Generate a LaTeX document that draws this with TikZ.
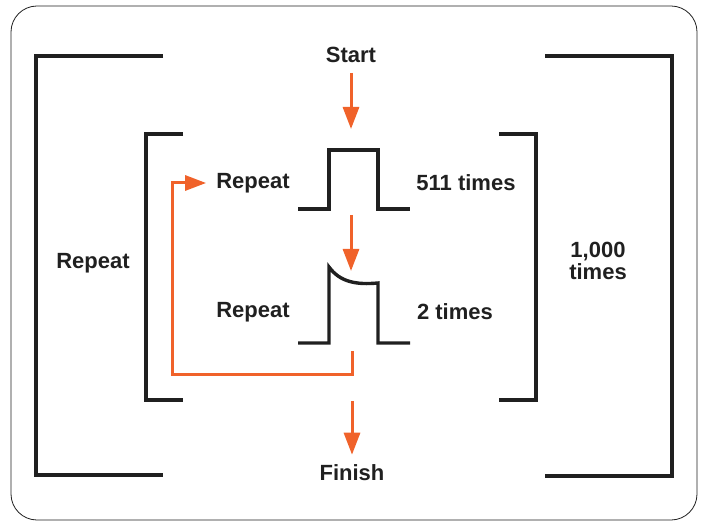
\documentclass[tikz,border=0pt]{standalone}
\usepackage{fontspec}
\setmainfont{Liberation Sans}
\usetikzlibrary{arrows.meta,positioning}
\definecolor{laranja}{RGB}{240,98,42}
\definecolor{tinta}{RGB}{32,32,32}

\begin{document}
\begin{tikzpicture}[x=1pt,y=-1pt,
  rotulo/.style={font=\fontsize{22}{22}\selectfont\bfseries,text=tinta,align=center,inner sep=0pt},
  colchete/.style={line width=3.4pt,draw=tinta},
  pulso/.style={line width=3.4pt,draw=tinta},
  seta/.style={-{Triangle[length=22pt,width=16pt]},line width=3pt,draw=laranja},
  laco/.style={-{Triangle[length=21pt,width=15pt]},line width=3pt,draw=laranja}
]
\useasboundingbox (0,0) rectangle (701,521);
\draw[line width=0.8pt,draw=tinta,rounded corners=26pt] (11,6) rectangle (697,520);
% colchetes
\draw[colchete] (163,56) -- (36,56) -- (36,475) -- (163,475);
\draw[colchete] (545,56) -- (672,56) -- (672,476) -- (545,476);
\draw[colchete] (183,134) -- (146,134) -- (146,400) -- (183,400);
\draw[colchete] (499,134) -- (536,134) -- (536,400) -- (499,400);
% pulsos
\draw[pulso] (298,209) -- (329,209) -- (329,150) -- (378,150) -- (378,209) -- (410,209);
\draw[pulso] (298,343) -- (329,343) -- (329,267) .. controls (340,282) and (356,285) .. (378,283) -- (378,343) -- (410,343);
\coordinate (base1) at (351,209);
\coordinate (topo1) at (351,129);
\coordinate (topo2) at (351,271);
\coordinate (base2) at (352,351);
\coordinate (canto) at (172,374);
% textos
\node[rotulo] (inicio) at (351,55) {Start};
\node[rotulo] (fim) at (352,473) {Finish};
\node[rotulo] (rep0) at (93,263) {Repeat};
\node[rotulo] (rep1) at (253,183) {Repeat};
\node[rotulo] (rep2) at (253,312) {Repeat};
\node[rotulo] (vezes1) at (466,183) {511 times};
\node[rotulo] (vezes2) at (455,312) {2 times};
\node[rotulo] (vezes0) at (598,261) {1,000\\times};
% setas
\draw[seta,shorten <=10pt] (inicio.south) -- (topo1);
\draw[seta,shorten <=6pt] (base1) -- (topo2);
\draw[seta,shorten <=50pt,shorten >=10pt] (base2) -- (fim.north);
\draw[laco] (base2) |- (canto) |- ([xshift=-10pt]rep1.west);
\end{tikzpicture}
\end{document}
